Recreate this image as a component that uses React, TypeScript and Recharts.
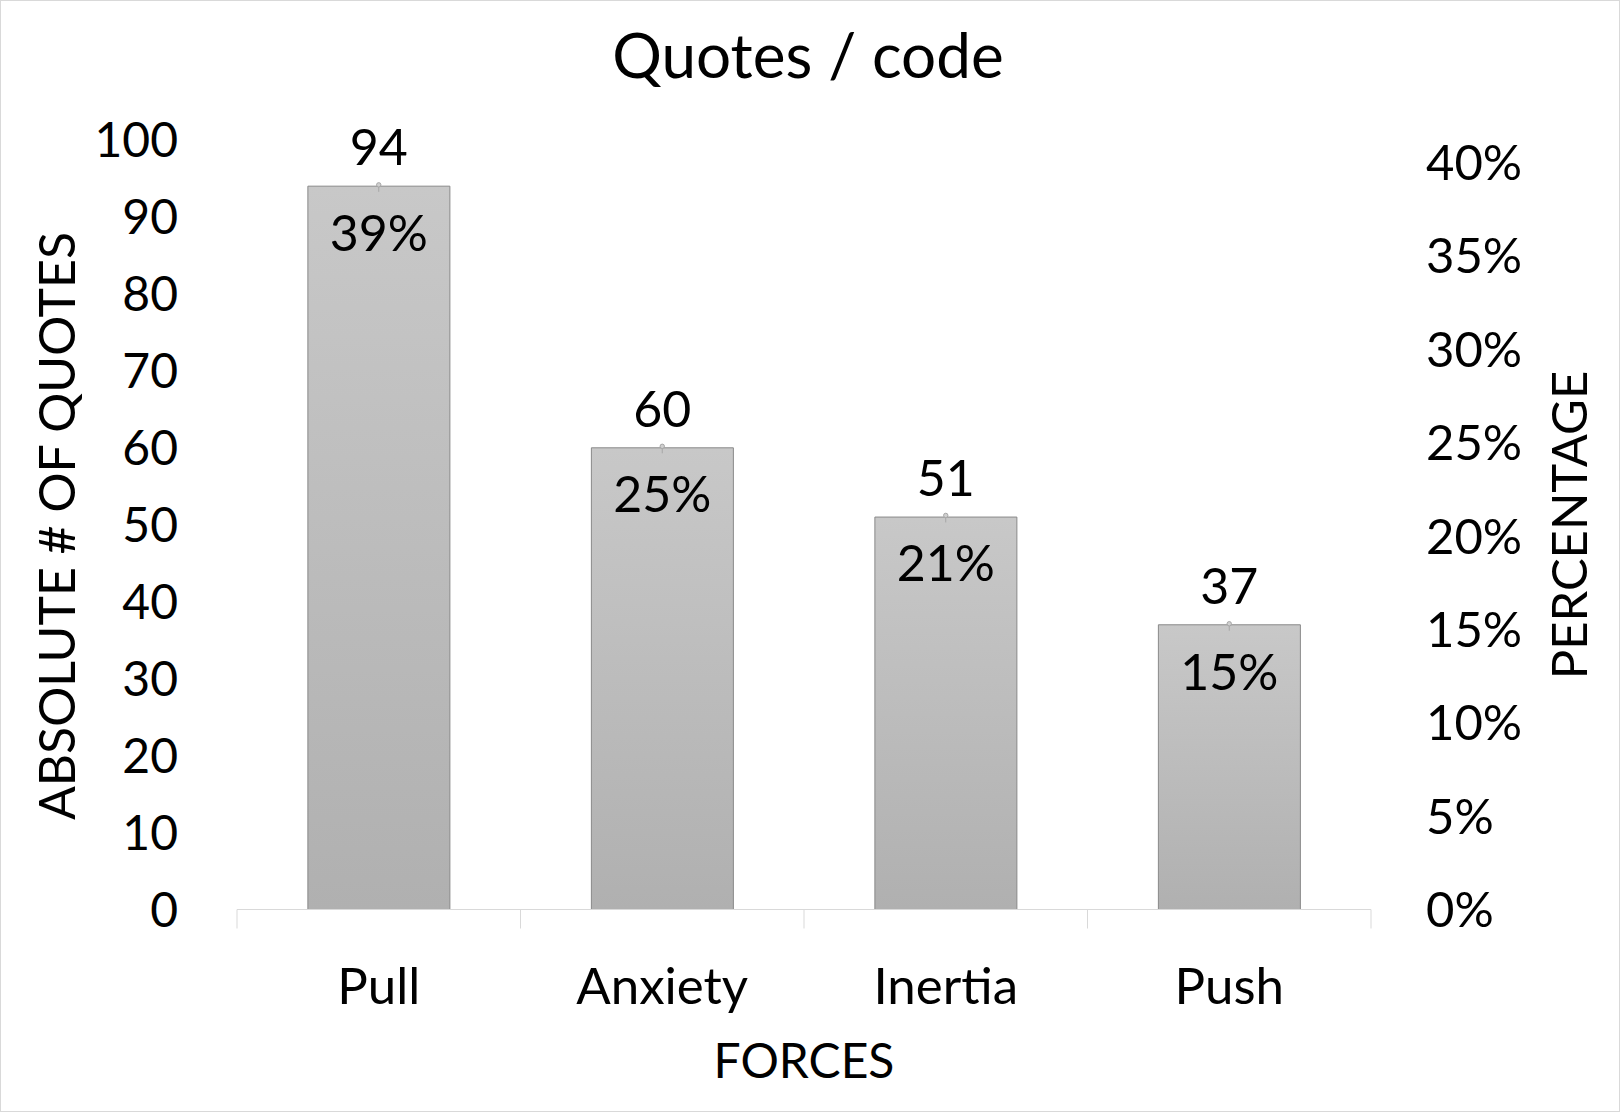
import React from 'react';
import { ComposedChart, Bar, Line, XAxis, YAxis, LabelList } from 'recharts';

const categories = ['Pull', 'Anxiety', 'Inertia', 'Push'];
const quoteCounts = [94, 60, 51, 37];
const percentages = [0.388, 0.248, 0.211, 0.153];
const percentLabels = ['39%', '25%', '21%', '15%'];
const leftTicks = [0, 10, 20, 30, 40, 50, 60, 70, 80, 90, 100];
const rightTicks = [0, 0.05, 0.1, 0.15, 0.2, 0.25, 0.3, 0.35, 0.4];

const data = categories.map((c, i) => ({
  name: c,
  count: quoteCounts[i],
  pct: percentages[i],
  pctLabel: percentLabels[i],
}));

const FONT = 'Lato, "Open Sans", sans-serif';
const FS = 48;
const XFS = 51;
const LFS = 50;

const XTick = (props: any) => {
  const { x, y, payload, index } = props;
  const off = payload && payload.offset ? payload.offset : 141.8;
  return (
    <g>
      <line x1={x - off} x2={x - off} y1={y} y2={y + 19} stroke="#d9d9d9" strokeWidth={1} />
      {index === categories.length - 1 && (
        <line x1={x + off} x2={x + off} y1={y} y2={y + 19} stroke="#d9d9d9" strokeWidth={1} />
      )}
      <text x={x} y={y + 94} textAnchor="middle" fontSize={XFS} fontFamily={FONT} fill="#000">
        {payload.value}
      </text>
    </g>
  );
};

const LeftTick = (props: any) => {
  const { x, y, payload } = props;
  return (
    <text x={x} y={y} dy="0.36em" textAnchor="end" fontSize={FS} fontFamily={FONT} fill="#000">
      {payload.value}
    </text>
  );
};

const RightTick = (props: any) => {
  const { x, y, payload } = props;
  return (
    <text x={x} y={y} dy="0.36em" textAnchor="start" fontSize={49} fontFamily={FONT} fill="#000">
      {`${Math.round(payload.value * 100)}%`}
    </text>
  );
};

const CountLabel = (p: any) => (
  <text x={p.x + p.width / 2} y={p.y - 21} textAnchor="middle" fontSize={LFS} fontFamily={FONT} fill="#000">
    {p.value}
  </text>
);

const PctLabel = (p: any) => (
  <text x={p.x} y={p.y + 66} textAnchor="middle" fontSize={LFS} fontFamily={FONT} fill="#000">
    {p.value}
  </text>
);

const PctDot = (p: any) => {
  const { cx, cy } = p;
  if (cx == null || cy == null) return null;
  return (
    <g>
      <line x1={cx} x2={cx} y1={cy + 2} y2={cy + 7} stroke="#a6a6a6" strokeWidth={1} />
      <circle cx={cx} cy={cy} r={2.2} fill="#d0d0d0" stroke="#a6a6a6" strokeWidth={1} />
    </g>
  );
};

export default function App() {
  return (
    <div style={{ position: 'absolute', left: 0, top: 0, width: 1620, height: 1112, background: '#fff' }}>
      <ComposedChart
        width={1620}
        height={1112}
        data={data}
        margin={{ top: 140, right: 0, bottom: 0, left: 0 }}
        barCategoryGap="25%"
      >
        <defs>
          <linearGradient id="barGrad" x1="0" y1="0" x2="0" y2="1">
            <stop offset="0%" stopColor="#c8c8c8" />
            <stop offset="100%" stopColor="#b0b0b0" />
          </linearGradient>
        </defs>
        <XAxis
          dataKey="name"
          height={202.5}
          tickSize={0}
          tickMargin={0}
          tickLine={false}
          axisLine={{ stroke: '#d9d9d9', strokeWidth: 1 }}
          tick={<XTick />}
          interval={0}
        />
        <YAxis
          yAxisId="left"
          orientation="left"
          width={237}
          domain={[0, 100]}
          ticks={leftTicks}
          tickSize={0}
          tickMargin={59}
          tickLine={false}
          axisLine={false}
          tick={<LeftTick />}
          interval={0}
        />
        <YAxis
          yAxisId="right"
          orientation="right"
          width={249}
          domain={[0, 0.412]}
          ticks={rightTicks}
          tickSize={0}
          tickMargin={55}
          tickLine={false}
          axisLine={false}
          tick={<RightTick />}
          interval={0}
          allowDataOverflow
        />
        <Bar
          yAxisId="left"
          dataKey="count"
          fill="url(#barGrad)"
          stroke="#898989"
          strokeWidth={1}
          isAnimationActive={false}
        >
          <LabelList dataKey="count" content={<CountLabel />} />
        </Bar>
        <Line
          yAxisId="right"
          dataKey="pct"
          stroke="none"
          dot={<PctDot />}
          activeDot={false}
          isAnimationActive={false}
        >
          <LabelList dataKey="pctLabel" content={<PctLabel />} />
        </Line>
      </ComposedChart>
      <svg
        width={1620}
        height={1112}
        style={{ position: 'absolute', left: 0, top: 0, pointerEvents: 'none' }}
      >
        <rect x={0.5} y={0.5} width={1619} height={1111} fill="none" stroke="#d9d9d9" strokeWidth={1} />
        <text x={808} y={78} textAnchor="middle" fontSize={62} fontFamily={FONT} fill="#000">
          Quotes / code
        </text>
        <text
          x={0}
          y={0}
          transform="translate(75,526) rotate(-90)"
          textAnchor="middle"
          fontSize={50}
          fontFamily={FONT}
          fill="#000"
        >
          ABSOLUTE # OF QUOTES
        </text>
        <text
          x={0}
          y={0}
          transform="translate(1587,525) rotate(-90)"
          textAnchor="middle"
          fontSize={49}
          fontFamily={FONT}
          fill="#000"
        >
          PERCENTAGE
        </text>
        <text x={804} y={1078} textAnchor="middle" fontSize={FS} fontFamily={FONT} fill="#000">
          FORCES
        </text>
      </svg>
    </div>
  );
}
